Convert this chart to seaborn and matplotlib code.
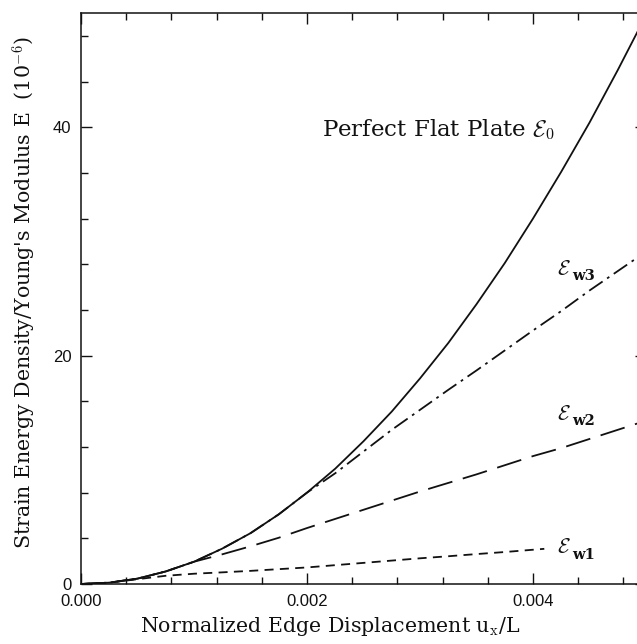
import numpy as np
import pandas as pd
import matplotlib
matplotlib.use("Agg")
import matplotlib.pyplot as plt
from matplotlib.ticker import MultipleLocator, FixedLocator, FixedFormatter
import seaborn as sns

# Normalized edge displacement u_x/L
disp = [0.0, 0.00025, 0.0005, 0.00075, 0.001, 0.00125, 0.0015, 0.00175,
        0.002, 0.00225, 0.0025, 0.00275, 0.003, 0.00325, 0.0035, 0.00375,
        0.004, 0.00425, 0.0045, 0.00475, 0.005]

# Strain energy density / E (1e-6)
flat_plate = [0.0, 0.12, 0.47, 1.1, 1.95, 3.1, 4.45, 6.1, 8.0, 10.1, 12.5,
              15.1, 18.0, 21.1, 24.5, 28.1, 32.0, 36.1, 40.4, 45.0, 49.8]
wavy_3 = [0.0, 0.12, 0.47, 1.1, 1.95, 3.1, 4.45, 6.1, 8.0, 9.7, 11.6,
          13.5, 15.25, 17.0, 18.7, 20.45, 22.2, 23.9, 25.7, 27.4, 29.1]
wavy_2 = [0.0, 0.12, 0.47, 1.1, 1.95, 2.6, 3.3, 4.05, 4.9, 5.7, 6.5,
          7.3, 8.1, 8.85, 9.6, 10.4, 11.2, 11.9, 12.7, 13.5, 14.3]
disp_w1 = [0.0, 0.00025, 0.0005, 0.00075, 0.001, 0.00125, 0.0015, 0.00175,
           0.002, 0.00225, 0.0025, 0.00275, 0.003, 0.00325, 0.0035, 0.00375,
           0.004, 0.0041]
wavy_1 = [0.0, 0.12, 0.42, 0.72, 0.9, 1.02, 1.15, 1.3, 1.45, 1.65, 1.85,
          2.05, 2.25, 2.43, 2.62, 2.8, 3.0, 3.08]

x_ticks = [0.0, 0.002, 0.004]
x_tick_labels = ["0.000", "0.002", "0.004"]
y_ticks = [0, 20, 40]
y_tick_labels = ["0", "20", "40"]

# curve labels: subscript text, anchor position (u, energy)
curve_labels = [("w3", 0.00421, 27.1), ("w2", 0.00421, 14.4), ("w1", 0.00421, 2.7)]

sns.set_style("ticks")
plt.rcParams["mathtext.fontset"] = "cm"
plt.rcParams["font.family"] = ["DejaVu Serif"]

W, H = 637, 644
fig = plt.figure(figsize=(W / 100, H / 100), dpi=100)
fig.patch.set_facecolor("white")
left_px, right_px, top_px, bottom_px = 81, 646, 13, 584
ax = fig.add_axes([left_px / W, 1 - bottom_px / H,
                   (right_px - left_px) / W, (bottom_px - top_px) / H])
ax.set_facecolor("white")

ink = "#111111"
series = [
    (disp, flat_plate, "-"),
    (disp, wavy_3, (0, (9, 3, 1.5, 3))),
    (disp, wavy_2, (0, (14, 6))),
    (disp_w1, wavy_1, (0, (5, 3.5))),
]
for xs, ys, ls in series:
    df = pd.DataFrame({"u": xs, "e": ys})
    sns.lineplot(data=df, x="u", y="e", ax=ax, color=ink, lw=1.3,
                 estimator=None, sort=True)
    ax.lines[-1].set_linestyle(ls)

ax.set_xlim(0, 0.005)
ax.set_ylim(0, 50)

ax.xaxis.set_major_locator(FixedLocator(x_ticks))
ax.xaxis.set_major_formatter(FixedFormatter(x_tick_labels))
ax.xaxis.set_minor_locator(MultipleLocator(0.0004))
ax.yaxis.set_major_locator(FixedLocator(y_ticks))
ax.yaxis.set_major_formatter(FixedFormatter(y_tick_labels))
ax.yaxis.set_minor_locator(MultipleLocator(4))

ax.tick_params(which="both", direction="in", top=True, right=True,
               color=ink, width=1.0)
ax.tick_params(which="major", length=8)
ax.tick_params(which="minor", length=5)
ax.tick_params(axis="x", which="major", pad=7)
ax.tick_params(axis="y", which="major", pad=7)
for lab in ax.get_xticklabels() + ax.get_yticklabels():
    lab.set_fontfamily("Liberation Sans")
    lab.set_fontsize(12)
    lab.set_color(ink)

for sp in ax.spines.values():
    sp.set_visible(True)
    sp.set_linewidth(1.1)
    sp.set_color(ink)

ax.set_xlabel("")
ax.set_ylabel("")
fig.text(330 / W, 1 - 627 / H, r"Normalized Edge Displacement u$_{\rm x}$/L",
         ha="center", va="center", fontsize=14.8, color=ink)
fig.text(25 / W, 1 - 292 / H,
         r"Strain Energy Density/Young's Modulus E  (10$^{-6}$)",
         ha="center", va="center", rotation=90, fontsize=14.8, color=ink)

ax.text(0.00213, 39.2, r"Perfect Flat Plate $\mathcal{E}_0$",
        fontsize=16.5, color=ink, ha="left", va="baseline")
for sub, ux, ey in curve_labels:
    ax.text(ux, ey, r"$\mathcal{E}$", fontsize=15, color=ink,
            ha="left", va="baseline")
    ax.annotate(sub, xy=(ux, ey), xytext=(11, -4), textcoords="offset points",
                fontsize=10.5, fontweight="bold", color=ink,
                ha="left", va="baseline")

fig.savefig("out.png", dpi=100, facecolor="white")
